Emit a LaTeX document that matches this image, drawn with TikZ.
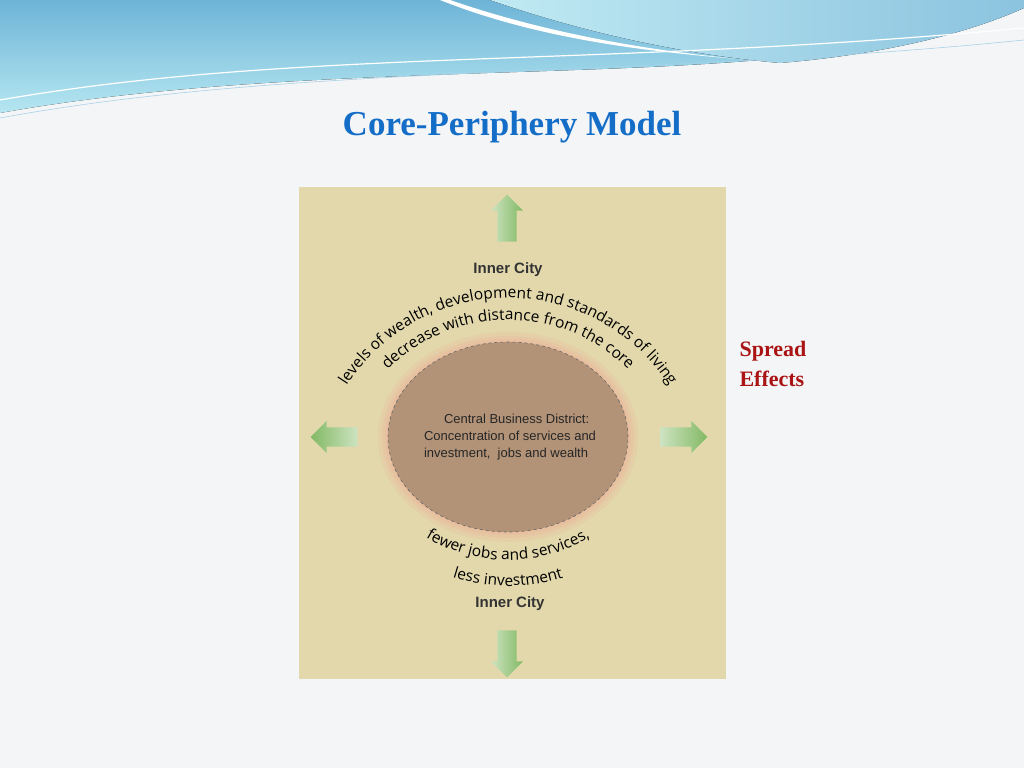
\documentclass[tikz,border=0pt]{standalone}
\usepackage{fontspec}
\setmainfont{Liberation Serif}
\newfontfamily\curvefont{Open Sans}
\newfontfamily\boxfont{Liberation Sans}
\usetikzlibrary{positioning, decorations.text, shapes.arrows, shapes.geometric}
\definecolor{slidebg}{RGB}{244,245,247}
\definecolor{wavedeep}{RGB}{110,180,215}
\definecolor{wavelight}{RGB}{150,220,235}
\definecolor{titleblue}{RGB}{20,110,200}
\definecolor{panelsand}{RGB}{226,216,172}
\definecolor{corebrown}{RGB}{178,147,120}
\definecolor{spreadred}{RGB}{170,20,20}
\definecolor{leafgreen}{RGB}{130,185,100}

\tikzset{
  spread/.style={single arrow, draw=none, minimum height=47pt, minimum width=32pt,
    single arrow head extend=6pt, inner sep=9pt,
    left color=leafgreen!40, right color=leafgreen},
  city/.style={font=\boxfont\bfseries\fontsize{15}{17}\selectfont, text=black!80},
}

\begin{document}
\begin{tikzpicture}[x=1pt, y=1pt]
\useasboundingbox (0,0) rectangle (1024,768);
\fill[slidebg] (0,0) rectangle (1024,768);

% top waves
\fill[top color=wavedeep, bottom color=wavelight!70] (0,768) -- (760,768) -- (760,708)
  .. controls (550,690) and (250,700) .. (0,655) -- cycle;
\fill[white] (450,768) .. controls (560,730) and (680,712) .. (790,705)
  .. controls (700,712) and (560,720) .. (440,768) -- cycle;
\fill[left color=wavelight!60, right color=wavedeep!80] (490,768) .. controls (600,730) and (700,712) .. (780,705)
  .. controls (900,715) and (980,740) .. (1024,760) -- (1024,768) -- cycle;
\draw[white, line width=1.2pt] (0,668) .. controls (300,720) and (600,700) .. (1024,740);
\draw[wavedeep!60, line width=0.6pt] (0,650) .. controls (300,705) and (650,690) .. (1024,728);

\node[font=\bfseries\fontsize{35}{40}\selectfont, text=titleblue] (title) at (512,641) {Core-Periphery Model};

% panel
\fill[panelsand] (299,89) rectangle (726,581);

% core with glow
\foreach \g in {10,6,3}
  \fill[red!30!pink, opacity=0.1] (508,331) ellipse ({120+\g} and {95+\g});
\node[ellipse, minimum width=240pt, minimum height=190pt, fill=corebrown,
  draw=black!60, dashed, line width=0.6pt] (core) at (508,331) {};
\node[font=\boxfont\fontsize{13}{17}\selectfont, align=left, text=black!85] (cbd) at (510,331)
  {\hspace*{20pt}Central Business District:\\Concentration of services and\\investment,\ \ jobs and wealth};

% spread effects arrows
\node[spread, shape border rotate=90] (north) at (507,545) {};
\node[spread, shape border rotate=270] (south) at (507,119) {};
\node[spread, shape border rotate=180, left color=leafgreen, right color=leafgreen!40] (west) at (339,331) {};
\node[spread] (east) at (679,331) {};

\node[city] (innertop) at (508,498) {Inner City};
\node[city] (innerbot) at (510,164) {Inner City};

% curved text
\path[decorate, decoration={text along path, text align=center,
  text={|\curvefont\fontsize{15.5}{17}\selectfont|levels of wealth, development and standards of living}}]
  ([shift={(508,278)}]150:192pt) arc (150:30:192pt);
\path[decorate, decoration={text along path, text align=center,
  text={|\curvefont\fontsize{15.5}{17}\selectfont|decrease with distance from the core}}]
  ([shift={(508,278)}]142:170pt) arc (142:38:170pt);
\path[decorate, decoration={text along path, text align=center,
  text={|\curvefont\fontsize{15.5}{17}\selectfont|fewer jobs and services,}}]
  ([shift={(508,368)}]232:160pt) arc (232:308:160pt);
\path[decorate, decoration={text along path, text align=center,
  text={|\curvefont\fontsize{15.5}{17}\selectfont|less investment}}]
  ([shift={(508,368)}]242:186pt) arc (242:298:186pt);

\node[anchor=west, align=left, font=\bfseries\fontsize{22}{30}\selectfont, text=spreadred] (spreadlbl) at (736,404)
  {Spread\\Effects};
\end{tikzpicture}
\end{document}
